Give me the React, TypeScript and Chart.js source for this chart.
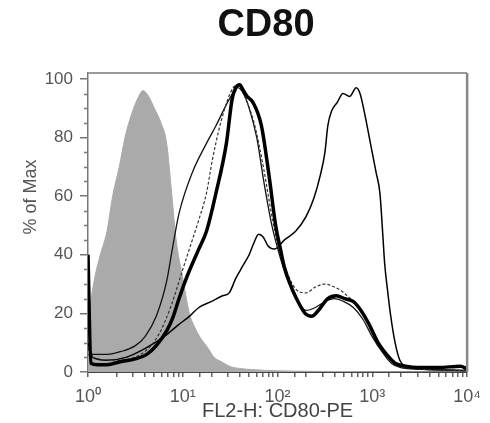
import React, { useEffect, useRef } from 'react';
import { Chart, registerables } from 'chart.js';
Chart.register(...registerables);

const TITLE = 'CD80';
const X_TITLE = 'FL2-H: CD80-PE';
const Y_TITLE = '% of Max';
const X_TICK_LABELS: Record<number, string> = { 1: '10⁰', 10: '10¹', 100: '10²', 1000: '10³', 10000: '10⁴' };
const Y_TICKS = [0, 20, 40, 60, 80, 100];

// positions are decades (log10 of FL2-H intensity); values are % of max
const ISO_DEC = [0, 0.02, 0.07, 0.13, 0.2, 0.26, 0.33, 0.39, 0.46, 0.52, 0.58, 0.64, 0.7, 0.77, 0.83, 0.88, 0.93, 1.0, 1.07, 1.13, 1.2, 1.27, 1.33, 1.41, 1.49, 1.6, 1.75, 2.0, 2.5, 3.0, 4.0];
const ISO_VAL = [16, 22, 32, 40, 48, 60, 70, 80, 88, 93, 96, 94, 90, 85, 78, 62, 45, 32, 20, 15, 11, 8, 5, 3.5, 2, 1.2, 0.8, 0.4, 0.2, 0.1, 0];

const THICK_DEC = [0, 0.03, 0.1, 0.2, 0.34, 0.5, 0.62, 0.72, 0.83, 0.9, 0.96, 1.05, 1.17, 1.25, 1.35, 1.46, 1.52, 1.56, 1.6, 1.64, 1.68, 1.74, 1.83, 1.91, 1.98, 2.03, 2.07, 2.12, 2.2, 2.29, 2.36, 2.43, 2.53, 2.62, 2.71, 2.8, 2.88, 2.97, 3.06, 3.15, 3.24, 3.35, 3.48, 3.7, 3.93, 4.0];
const THICK_VAL = [40, 3, 2.5, 2.5, 3.5, 4.5, 6, 9, 14, 19, 25, 33, 42, 48, 61, 78, 93, 97, 98, 96, 94, 92, 84, 67, 50, 42, 36, 31, 25, 20, 19, 21, 25, 26, 25, 24, 21, 16, 10, 6, 3, 2, 1.5, 1.5, 2, 1];

const THIN_DEC = [0, 0.05, 0.2, 0.35, 0.5, 0.6, 0.72, 0.83, 0.89, 0.96, 1.1, 1.25, 1.35, 1.49, 1.58, 1.64, 1.7, 1.78, 1.86, 1.94, 2.02, 2.1, 2.2, 2.3, 2.4, 2.5, 2.6, 2.7, 2.8, 2.9, 3.0, 3.1, 3.2, 3.3, 3.5, 4.0];
const THIN_VAL = [8, 6, 6, 7, 9, 12, 19, 31, 42, 54, 68, 78, 84, 93, 97, 95, 90, 80, 64, 50, 40, 32, 25, 21, 22, 24, 25, 24, 22, 18, 12, 7, 3, 1.5, 1, 0.5];

const DASH_DEC = [0, 0.05, 0.3, 0.6, 0.75, 0.87, 1.0, 1.1, 1.17, 1.25, 1.31, 1.4, 1.5, 1.57, 1.62, 1.68, 1.76, 1.85, 1.93, 2.0, 2.1, 2.2, 2.3, 2.4, 2.5, 2.6, 2.7, 2.85, 3.0, 3.15, 3.3, 3.5, 4.0];
const DASH_VAL = [6, 5, 4, 7, 13, 22, 35, 45, 52, 61, 72, 85, 95, 98, 96, 92, 84, 70, 55, 44, 34, 28, 27, 29, 30, 29, 27, 22, 14, 6, 2, 1, 0.5];

const HIGH_DEC = [0, 0.05, 0.2, 0.4, 0.6, 0.8, 0.95, 1.07, 1.17, 1.3, 1.42, 1.49, 1.56, 1.63, 1.7, 1.75, 1.8, 1.85, 1.9, 1.97, 2.07, 2.19, 2.3, 2.38, 2.45, 2.5, 2.53, 2.57, 2.63, 2.69, 2.76, 2.83, 2.87, 2.92, 2.98, 3.04, 3.08, 3.11, 3.13, 3.16, 3.19, 3.24, 3.29, 3.35, 3.5, 4.0];
const HIGH_VAL = [10, 5, 4, 5, 8, 12, 16, 19, 22, 24, 26, 27, 32, 36, 40, 44, 47, 46, 43, 42, 45, 48, 53, 59, 67, 75, 84, 89, 92, 95, 94, 97, 95, 88, 78, 68, 61, 47, 37, 28, 20, 10, 4, 2, 1, 0.5];

const pts = (dec: number[], val: number[]) => dec.map((d, i) => ({ x: Math.pow(10, d), y: val[i] }));
const FONT = 'Arial, "Liberation Sans", sans-serif';

const framePlugin = {
  id: 'frame',
  afterLayout(chart: any) {
    // let the y scale (labels) use the full left margin
    const y = chart.scales.y;
    y.left = 0;
  },
  afterDraw(chart: any) {
    const { ctx, chartArea } = chart;
    const y = chart.scales.y;
    ctx.save();
    // minor y ticks
    ctx.strokeStyle = '#777';
    ctx.lineWidth = 1.5;
    for (let v = 5; v < 102; v += 5) {
      if (v % 20 === 0) continue;
      const py = Math.round(y.getPixelForValue(v)) + 0.5;
      ctx.beginPath();
      ctx.moveTo(chartArea.left - 4, py);
      ctx.lineTo(chartArea.left, py);
      ctx.stroke();
    }
    ctx.strokeStyle = '#999';
    ctx.lineWidth = 2;
    ctx.beginPath();
    ctx.moveTo(chartArea.left, chartArea.top);
    ctx.lineTo(chartArea.right, chartArea.top);
    ctx.stroke();
    ctx.strokeStyle = '#888';
    ctx.lineWidth = 2.5;
    ctx.beginPath();
    ctx.moveTo(chartArea.right, chartArea.top);
    ctx.lineTo(chartArea.right, chartArea.bottom);
    ctx.stroke();
    // y axis title
    ctx.translate(31, 197);
    ctx.rotate(-Math.PI / 2);
    ctx.fillStyle = '#555';
    ctx.font = '18px ' + FONT;
    ctx.textAlign = 'center';
    ctx.textBaseline = 'middle';
    ctx.fillText(Y_TITLE, 0, 0);
    ctx.restore();
  },
};

export default function App() {
  const ref = useRef<HTMLCanvasElement>(null);
  useEffect(() => {
    if (!ref.current) return;
    const chart = new Chart(ref.current, {
      type: 'line',
      data: {
        datasets: [
          {
            label: 'thick', data: pts(THICK_DEC, THICK_VAL), borderColor: '#000', borderWidth: 3.5,
            pointRadius: 0, fill: false, order: 1, cubicInterpolationMode: 'monotone',
          },
          {
            label: 'dashed', data: pts(DASH_DEC, DASH_VAL), borderColor: '#333', borderWidth: 1.2, borderDash: [3, 2],
            pointRadius: 0, fill: false, order: 2, cubicInterpolationMode: 'monotone',
          },
          {
            label: 'thin', data: pts(THIN_DEC, THIN_VAL), borderColor: '#111', borderWidth: 1.3,
            pointRadius: 0, fill: false, order: 3, cubicInterpolationMode: 'monotone',
          },
          {
            label: 'high', data: pts(HIGH_DEC, HIGH_VAL), borderColor: '#000', borderWidth: 1.5,
            pointRadius: 0, fill: false, order: 4, cubicInterpolationMode: 'monotone',
          },
          {
            label: 'isotype', data: pts(ISO_DEC, ISO_VAL), borderColor: '#aaa', borderWidth: 1,
            backgroundColor: '#aaaaaa', pointRadius: 0, fill: 'origin', order: 5, cubicInterpolationMode: 'monotone',
          },
        ],
      },
      options: {
        animation: false,
        responsive: false,
        layout: { padding: { left: 59, right: 17, top: 0, bottom: 0 } },
        plugins: {
          legend: { display: false },
          tooltip: { enabled: false },
          title: {
            display: true, text: TITLE, color: '#111',
            font: { family: FONT, size: 38, weight: 'bold' },
            padding: { top: 3, bottom: 24.4 },
          },
        },
        scales: {
          x: {
            type: 'logarithmic', min: 1, max: 10000,
            afterFit: (s: any) => { s.height = 51; },
            grid: { display: true, drawOnChartArea: false, drawTicks: true, tickLength: 5, color: '#666', lineWidth: 1.5 },
            border: { display: true, color: '#444', width: 2 },
            ticks: {
              autoSkip: false, maxRotation: 0, minRotation: 0, padding: 9, color: '#555',
              font: { family: FONT, size: 18 },
              callback: (v: any) => X_TICK_LABELS[Number(v)] ?? '',
            },
            title: { display: true, text: X_TITLE, color: '#444', font: { family: FONT, size: 20 }, padding: { top: 0, bottom: 0 } },
          },
          y: {
            type: 'linear', min: 0, max: 102,
            afterFit: (s: any) => { s.width = 29; },
            afterBuildTicks: (s: any) => { s.ticks = Y_TICKS.map((v) => ({ value: v })); },
            grid: { display: true, drawOnChartArea: false, drawTicks: true, tickLength: 8, color: '#777', lineWidth: 1.5 },
            border: { display: true, color: '#777', width: 1.5 },
            ticks: { padding: 7, color: '#555', font: { family: FONT, size: 17 } },
          },
        },
      },
      plugins: [framePlugin],
    } as any);
    return () => chart.destroy();
  }, []);
  return (
    <div style={{ position: 'absolute', left: 0, top: 0, width: 490, height: 423, background: '#fff' }}>
      <canvas ref={ref} width={490} height={423} />
    </div>
  );
}
